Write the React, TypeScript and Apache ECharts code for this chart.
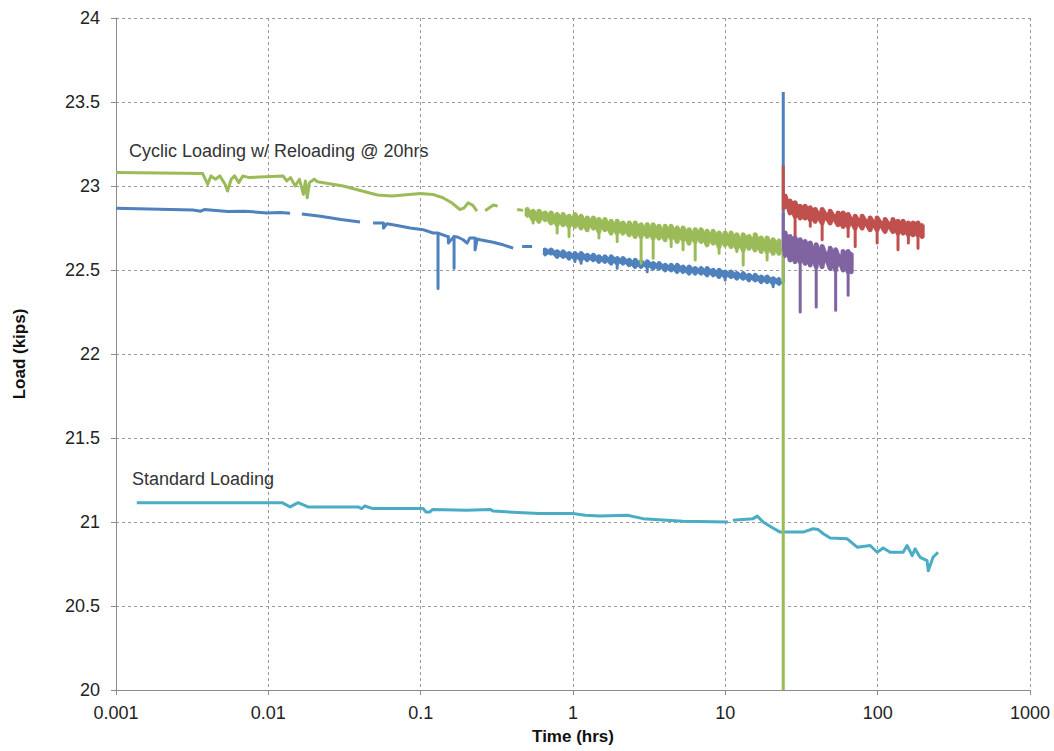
import React, { useEffect, useRef } from "react";
import * as echarts from "echarts";

// ---------- data ----------
const xTickLabels = ["0.001", "0.01", "0.1", "1", "10", "100", "1000"];

// Cyclic Loading w/ Reloading (green) – smooth early part (null = gap)
const greenT = [0.001, 0.0037, 0.004, 0.0042, 0.0045, 0.0048, 0.0052, 0.0054, 0.0057, 0.006, 0.0064, 0.0068, 0.0075, 0.0125, 0.0132, 0.014, 0.015, 0.016, 0.017, 0.0175, 0.018, 0.0186, 0.02, 0.021, 0.031, 0.052, 0.065, 0.1, 0.12, 0.14, 0.16, 0.181, 0.193, 0.205, 0.22, 0.234, 0.25, 0.265, 0.3, 0.32, 0.38, 0.43, 0.47, 0.49];
const greenY = [23.08, 23.075, 23.01, 23.06, 23.04, 23.06, 23.01, 22.97, 23.04, 23.06, 23.02, 23.06, 23.05, 23.06, 23.03, 23.05, 23.0, 23.04, 22.95, 23.03, 22.93, 23.02, 23.04, 23.025, 23.0, 22.946, 22.94, 22.955, 22.95, 22.93, 22.9, 22.86, 22.87, 22.9, 22.885, 22.85, null, 22.853, 22.887, 22.88, null, 22.86, 22.855, null];
// green noisy band
const greenBandT = [0.5, 0.547, 0.598, 0.656, 0.718, 0.787, 0.861, 0.942, 1.03, 1.13, 1.24, 1.36, 1.48, 1.62, 1.78, 1.95, 2.13, 2.34, 2.56, 2.8, 3.07, 3.36, 3.67, 4.03, 4.41, 4.83, 5.28, 5.78, 6.34, 6.93, 7.59, 8.32, 9.1, 9.97, 10.9, 11.9, 13.1, 14.3, 15.7, 17.2, 18.8, 20.6, 22.5];
const greenBandHi = [22.86, 22.85, 22.85, 22.84, 22.84, 22.83, 22.83, 22.82, 22.83, 22.82, 22.81, 22.81, 22.8, 22.8, 22.79, 22.79, 22.78, 22.78, 22.78, 22.77, 22.77, 22.77, 22.76, 22.76, 22.76, 22.75, 22.75, 22.74, 22.74, 22.74, 22.73, 22.73, 22.72, 22.72, 22.72, 22.71, 22.71, 22.7, 22.71, 22.69, 22.69, 22.68, 22.68];
const greenBandLo = [22.82, 22.8, 22.79, 22.8, 22.78, 22.77, 22.77, 22.76, 22.76, 22.75, 22.74, 22.75, 22.73, 22.74, 22.72, 22.72, 22.72, 22.71, 22.7, 22.7, 22.7, 22.69, 22.69, 22.68, 22.69, 22.67, 22.68, 22.66, 22.67, 22.67, 22.65, 22.66, 22.64, 22.65, 22.64, 22.63, 22.62, 22.63, 22.62, 22.61, 22.61, 22.6, 22.6];
const greenBandDip = [null, 22.78, null, null, null, 22.72, null, 22.7, null, null, null, null, 22.69, null, null, 22.67, null, null, null, 22.54, null, 22.57, null, null, 22.64, null, 22.62, null, 22.56, null, null, null, 22.6, null, null, 22.61, 22.53, null, null, null, 22.56, null, null];
const greenDropT = [24, 24];
const greenDropY = [22.62, 20];

// blue (first cyclic run) – early part
const blueT = [0.001, 0.0032, 0.0036, 0.0038, 0.0054, 0.007, 0.0098, 0.012, 0.0139, 0.015, 0.0166, 0.022, 0.03, 0.04, 0.044, 0.0487, 0.0541, 0.057, 0.057, 0.06, 0.07, 0.0852, 0.1037, 0.1206, 0.13, 0.13, 0.13, 0.149, 0.152, 0.152, 0.1657, 0.1657, 0.1657, 0.176, 0.19, 0.2017, 0.21, 0.2276, 0.2276, 0.235, 0.2455, 0.2987, 0.3476, 0.4044, 0.44, 0.4634, 0.5389, 0.58, 0.6364];
const blueY = [22.867, 22.857, 22.85, 22.86, 22.848, 22.85, 22.84, 22.842, 22.838, null, 22.833, 22.82, 22.8, 22.786, null, 22.78, 22.78, 22.78, 22.75, 22.775, 22.765, 22.75, 22.74, 22.72, 22.72, 22.39, 22.72, 22.7, 22.7, 22.66, 22.7, 22.51, 22.7, 22.695, 22.68, 22.66, 22.69, 22.69, 22.62, 22.685, 22.68, 22.665, 22.65, 22.63, null, 22.64, 22.64, null, 22.62];
const blueBandT = [0.656, 0.718, 0.787, 0.861, 0.942, 1.03, 1.13, 1.24, 1.36, 1.48, 1.62, 1.78, 1.95, 2.13, 2.34, 2.56, 2.8, 3.07, 3.36, 3.67, 4.03, 4.41, 4.83, 5.28, 5.78, 6.34, 6.93, 7.59, 8.32, 9.1, 9.97, 10.9, 11.9, 13.1, 14.3, 15.7, 17.2, 18.8, 20.6, 22.5];
const blueBandHi = [22.62, 22.62, 22.61, 22.61, 22.6, 22.6, 22.6, 22.59, 22.59, 22.58, 22.58, 22.58, 22.57, 22.57, 22.56, 22.56, 22.55, 22.55, 22.54, 22.54, 22.53, 22.53, 22.53, 22.52, 22.52, 22.51, 22.51, 22.51, 22.5, 22.5, 22.49, 22.49, 22.48, 22.48, 22.47, 22.47, 22.46, 22.46, 22.45, 22.45];
const blueBandLo = [22.59, 22.6, 22.58, 22.58, 22.57, 22.57, 22.56, 22.56, 22.56, 22.55, 22.55, 22.54, 22.54, 22.54, 22.53, 22.52, 22.52, 22.52, 22.51, 22.51, 22.5, 22.5, 22.49, 22.49, 22.48, 22.48, 22.48, 22.47, 22.47, 22.46, 22.46, 22.46, 22.45, 22.45, 22.44, 22.44, 22.43, 22.43, 22.42, 22.42];
const blueBandDip = [null, null, null, null, null, 22.55, 22.54, null, null, null, null, null, 22.51, null, null, null, null, 22.49, null, null, null, null, null, null, null, null, null, null, null, null, 22.44, null, null, null, null, null, null, null, 22.4, null];
const blueSpikeT = [24, 24];
const blueSpikeY = [22.43, 23.56];

// red (reloaded run)
const redT = [24, 24.7, 26.6, 28.7, 31.0, 33.4, 36.1, 38.9, 43.2, 48.8, 55.0, 59.3, 64.0, 71.2, 79.1, 89.3, 99.2, 112, 126, 136, 147, 159, 171, 184, 196];
const redHi = [23.12, 22.94, 22.91, 22.9, 22.88, 22.88, 22.87, 22.86, 22.86, 22.85, 22.84, 22.84, 22.83, 22.82, 22.82, 22.81, 22.81, 22.8, 22.8, 22.79, 22.79, 22.78, 22.78, 22.78, 22.77];
const redLo = [22.86, 22.87, 22.84, 22.82, 22.81, 22.81, 22.8, 22.79, 22.78, 22.78, 22.77, 22.76, 22.76, 22.75, 22.75, 22.74, 22.74, 22.73, 22.73, 22.72, 22.72, 22.71, 22.71, 22.71, 22.7];
const redDip = [null, null, null, 22.7, null, null, 22.76, null, 22.68, null, null, null, 22.7, 22.64, null, null, 22.66, null, null, 22.62, null, 22.66, null, 22.63, null];

// purple (reloaded run)
const purpleT = [24, 24.7, 26.6, 28.7, 31.0, 33.4, 36.1, 39.5, 43.2, 48.8, 53.0, 59.3, 64.0, 67.0];
const purpleHi = [22.84, 22.72, 22.7, 22.69, 22.68, 22.67, 22.66, 22.65, 22.64, 22.63, 22.62, 22.61, 22.61, 22.6];
const purpleLo = [22.62, 22.58, 22.56, 22.55, 22.55, 22.54, 22.53, 22.52, 22.52, 22.51, 22.5, 22.5, 22.49, 22.49];
const purpleDip = [null, null, null, null, 22.25, null, null, 22.28, null, null, 22.26, null, 22.35, null];

// Standard Loading (cyan)
const stdT = [0.00137, 0.0123, 0.0139, 0.0157, 0.0182, 0.0388, 0.041, 0.043, 0.0487, 0.104, 0.108, 0.115, 0.12, 0.2, 0.2857, 0.3, 0.47, 0.6, 1.0, 1.2, 1.5, 2.27, 2.88, 5.28, 10.4, 10.7, 11.2, 15.2, 16.2, 17.7, 20, 22.9, 32.4, 37.7, 40.7, 44, 48.8, 63.1, 73.3, 89.3, 99.3, 108.7, 120.8, 147, 156, 168.5, 176, 190, 211, 215, 231, 249];
const stdY = [21.115, 21.115, 21.09, 21.115, 21.09, 21.09, 21.08, 21.095, 21.08, 21.08, 21.06, 21.06, 21.075, 21.07, 21.075, 21.065, 21.055, 21.05, 21.05, 21.04, 21.035, 21.04, 21.02, 21.005, 21.0, null, 21.01, 21.02, 21.035, 21.0, 20.97, 20.94, 20.94, 20.96, 20.955, 20.93, 20.905, 20.9, 20.85, 20.86, 20.82, 20.845, 20.82, 20.82, 20.86, 20.8, 20.84, 20.79, 20.77, 20.71, 20.79, 20.82];

// ---------- helpers ----------
type Pt = [number, number | string];
function pairs(t: number[], y: (number | null)[]): Pt[] {
  return t.map((x, i) => [x, y[i] === null ? "-" : (y[i] as number)]);
}
// forward band: top -> (dip) -> bottom at each time
function band(t: number[], hi: number[], lo: number[], dip: (number | null)[]): Pt[] {
  const out: Pt[] = [];
  t.forEach((x, i) => {
    out.push([x, hi[i]]);
    if (dip[i] !== null && dip[i] !== undefined) out.push([x, dip[i] as number]);
    out.push([x, lo[i]]);
  });
  return out;
}
// crossing pass over the same band readings: bottom -> top at each time
function bandCross(t: number[], hi: number[], lo: number[]): Pt[] {
  const out: Pt[] = [];
  t.forEach((x, i) => {
    out.push([x, lo[i]]);
    out.push([x, hi[i]]);
  });
  return out;
}

const FONT = "'Liberation Sans', Arial, sans-serif";

export default function App() {
  const ref = useRef<HTMLDivElement>(null);
  useEffect(() => {
    if (!ref.current) return;
    const chart = echarts.init(ref.current, undefined, { renderer: "svg" });
    const lineSeries = (name: string, color: string, data: Pt[], width = 3) => ({
      name,
      type: "line",
      data,
      showSymbol: false,
      symbol: "none",
      connectNulls: false,
      lineStyle: { color, width, join: "round" },
      itemStyle: { color },
      emphasis: { disabled: true },
    });
    chart.setOption({
      animation: false,
      backgroundColor: "#ffffff",
      textStyle: { fontFamily: FONT },
      grid: { left: 116, right: 24, top: 18, bottom: 61, containLabel: false },
      xAxis: {
        type: "log",
        logBase: 10,
        min: 0.001,
        max: 1000,
        name: "Time (hrs)",
        nameLocation: "middle",
        nameGap: 38,
        nameTextStyle: { fontSize: 17, fontWeight: "bold", color: "#111", fontFamily: FONT },
        axisLine: { lineStyle: { color: "#8a8a8a", width: 1 } },
        axisTick: { show: true, length: 5, lineStyle: { color: "#8a8a8a" } },
        axisLabel: {
          fontSize: 18,
          color: "#222",
          margin: 14,
          fontFamily: FONT,
          formatter: (_v: number, i: number) => xTickLabels[i] ?? "",
        },
        splitLine: { show: true, lineStyle: { color: "#9a9a9a", type: [3, 3], width: 1 } },
        minorTick: { show: false },
      },
      yAxis: {
        type: "value",
        min: 20,
        max: 24,
        interval: 0.5,
        name: "Load (kips)",
        nameLocation: "middle",
        nameGap: 88,
        nameRotate: 90,
        nameTextStyle: { fontSize: 17, fontWeight: "bold", color: "#111", fontFamily: FONT },
        axisLine: { show: true, lineStyle: { color: "#8a8a8a", width: 1 } },
        axisTick: { show: true, length: 5, lineStyle: { color: "#8a8a8a" } },
        axisLabel: { fontSize: 18, color: "#222", margin: 16, fontFamily: FONT },
        splitLine: { show: true, lineStyle: { color: "#9a9a9a", type: [3, 3], width: 1 } },
      },
      series: [
        lineSeries("Standard Loading", "#4BACC6", pairs(stdT, stdY)),
        lineSeries("Cyclic run 1", "#4F81BD", [
          ...pairs(blueT, blueY),
          ...band(blueBandT, blueBandHi, blueBandLo, blueBandDip),
          ...pairs(blueSpikeT, blueSpikeY),
        ]),
        lineSeries("Cyclic run 1 band", "#4F81BD", bandCross(blueBandT, blueBandHi, blueBandLo), 4.5),
        lineSeries("Cyclic Loading w/ Reloading", "#9BBB59", [
          ...pairs(greenT, greenY),
          ...band(greenBandT, greenBandHi, greenBandLo, greenBandDip),
          ...pairs(greenDropT, greenDropY),
        ]),
        lineSeries("Cyclic Loading band", "#9BBB59", bandCross(greenBandT, greenBandHi, greenBandLo), 5),
        lineSeries("Reload A", "#C0504D", band(redT, redHi, redLo, redDip)),
        lineSeries("Reload A band", "#C0504D", bandCross(redT.slice(1), redHi.slice(1), redLo.slice(1)), 5),
        lineSeries("Reload B", "#8064A2", band(purpleT, purpleHi, purpleLo, purpleDip)),
        lineSeries("Reload B band", "#8064A2", bandCross(purpleT.slice(1), purpleHi.slice(1), purpleLo.slice(1)), 5),
      ],
      graphic: [
        {
          type: "text",
          left: 129,
          top: 142,
          style: { text: "Cyclic Loading w/ Reloading @ 20hrs", fontSize: 18, fill: "#333", fontFamily: FONT },
          z: 100,
        },
        {
          type: "text",
          left: 132,
          top: 470,
          style: { text: "Standard Loading", fontSize: 18, fill: "#333", fontFamily: FONT },
          z: 100,
        },
      ],
    });
    return () => chart.dispose();
  }, []);
  return (
    <div
      ref={ref}
      style={{ position: "fixed", left: 0, top: 0, width: 1054, height: 751, background: "#fff" }}
    />
  );
}
